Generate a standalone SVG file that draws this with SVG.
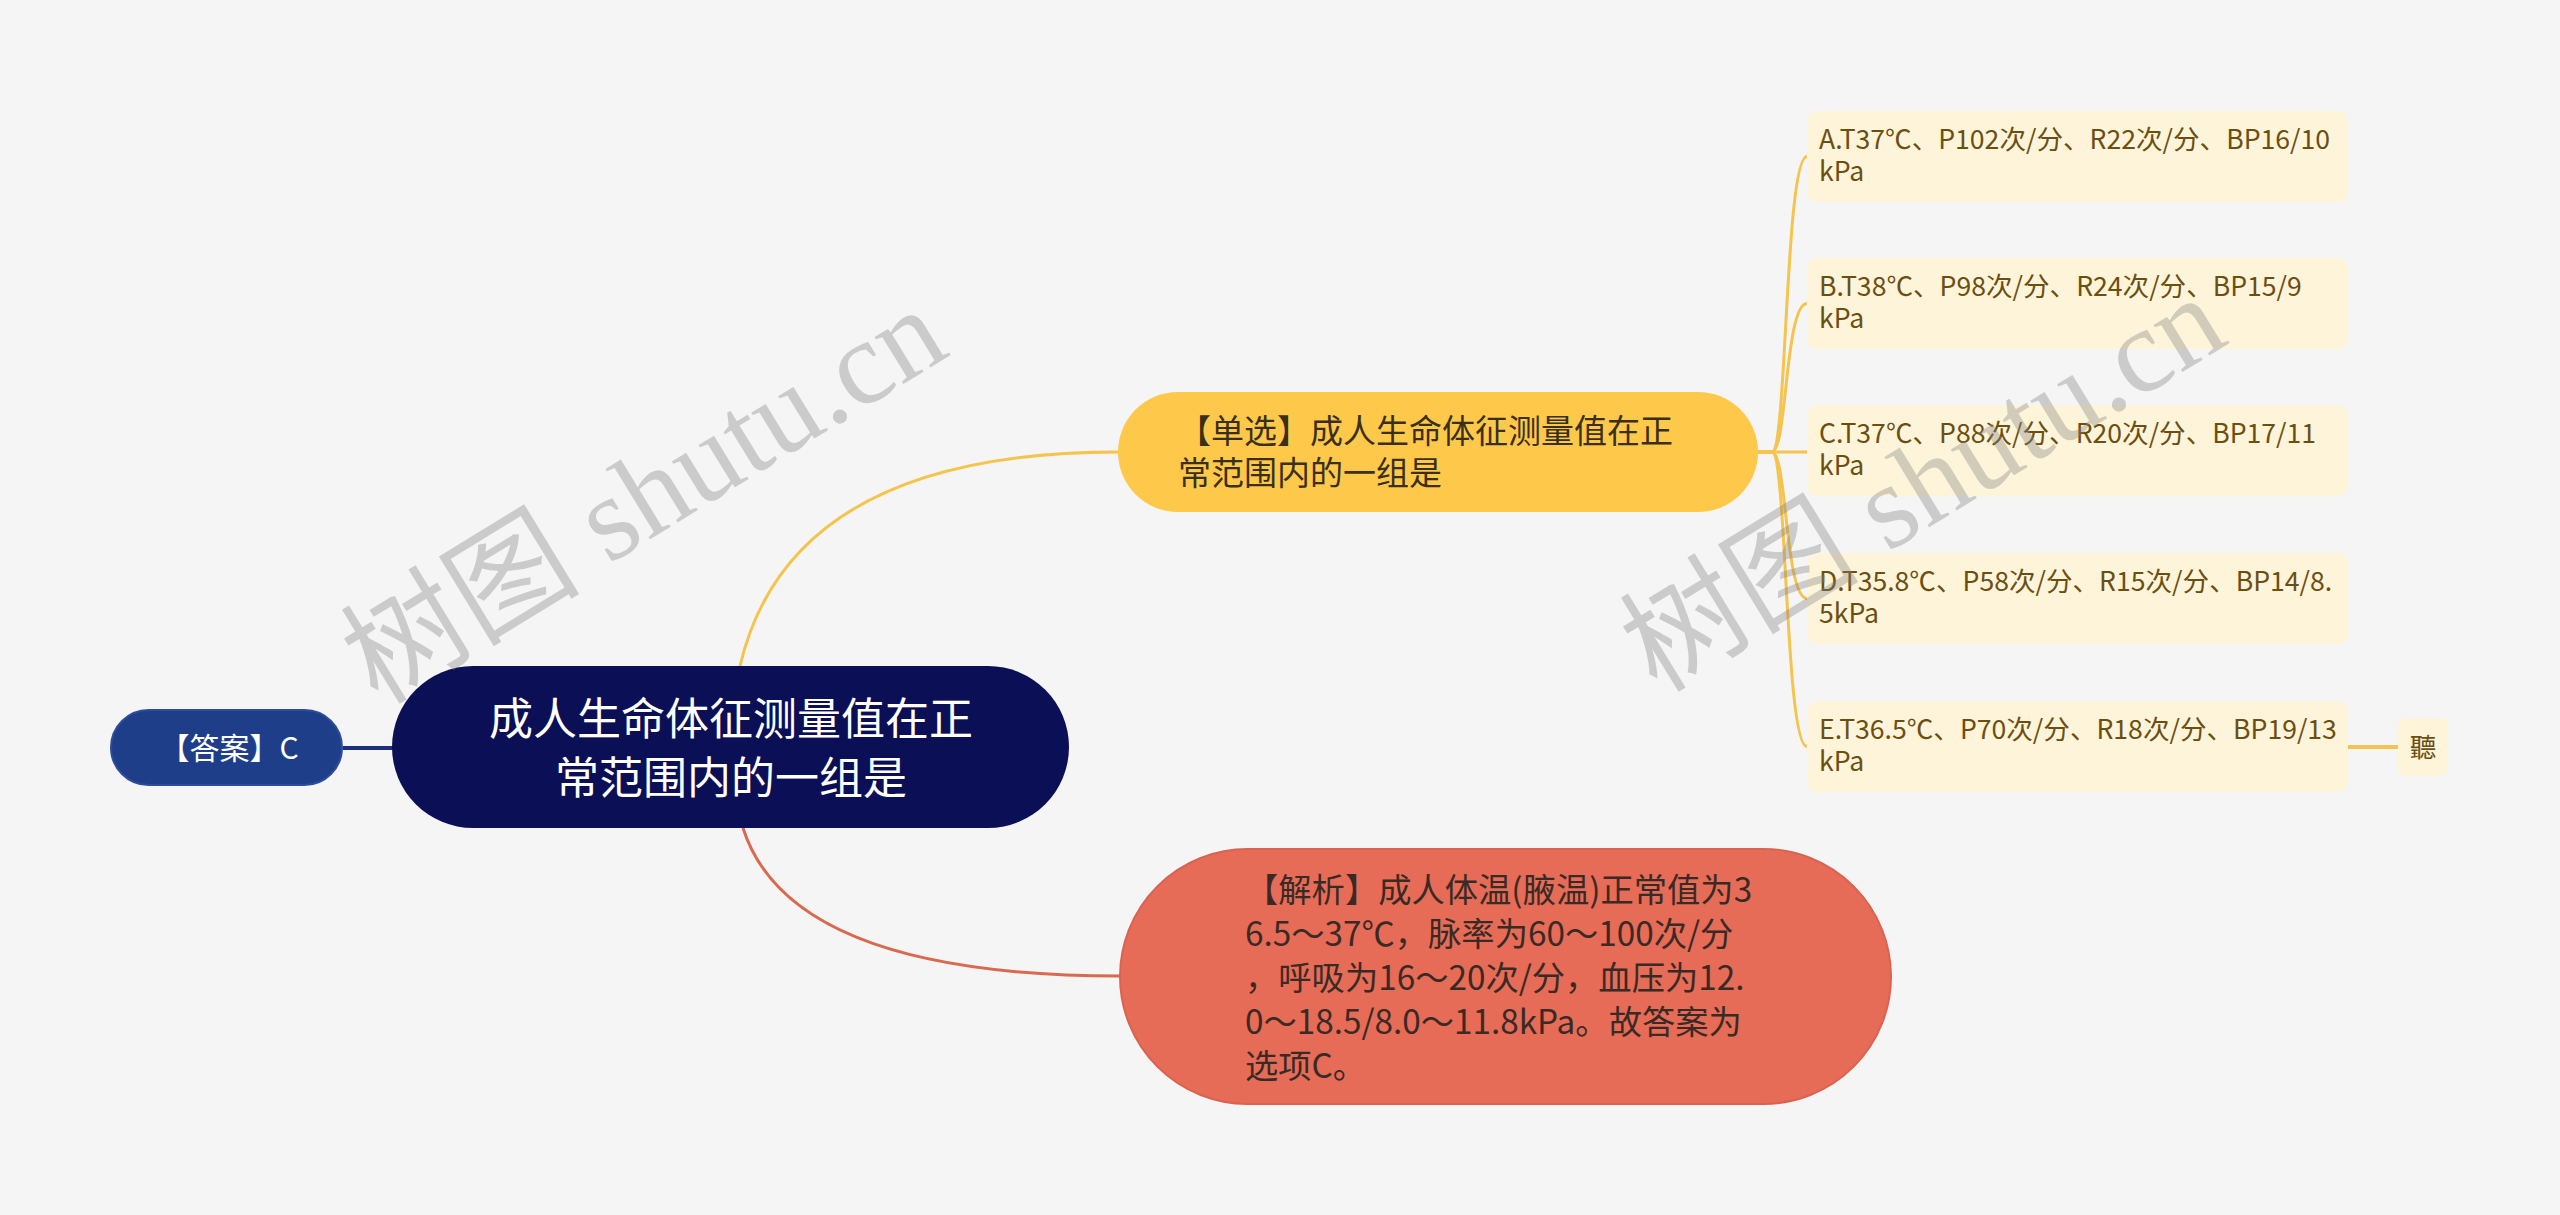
<svg xmlns="http://www.w3.org/2000/svg" width="2560" height="1215" viewBox="0 0 2560 1215">
<style>
text{font-family:"Noto Sans CJK SC","Liberation Sans",sans-serif}
.root{fill:#0b0f56}
.ans{fill:#1f3e8a;stroke:#2d4d9c;stroke-width:2}
.single{fill:#fec84b}
.ana{fill:#e66c57;stroke:#d96350;stroke-width:2}
.opt{fill:#fef4da}
.tw{fill:#ffffff}
.td{fill:#3a3018}
.tr{fill:#3a2a25}
.to{fill:#6b4f10;font-size:26.6px}
.cy{fill:none;stroke:#f4c44e;stroke-width:3}
.wm{font-family:"Liberation Serif","Noto Sans CJK SC",serif;font-size:120px;fill:#808080;opacity:0.35}
</style>
<rect x="0" y="0" width="2560" height="1215" fill="#f5f5f5"/>
<g id="connectors">
<line x1="343" y1="748" x2="393" y2="748" stroke="#1c2f7a" stroke-width="4"/>
<path d="M740 666 Q790 452 1118 452" class="cy"/>
<path d="M743 828 Q790 976 1120 976" fill="none" stroke="#d9694f" stroke-width="3"/>
<path d="M1758 452 H1772 C1787 452 1785 156.5 1807 156.5" class="cy"/>
<path d="M1758 452 H1772 C1787 452 1785 303.5 1807 303.5" class="cy"/>
<path d="M1758 452 H1807" class="cy"/>
<path d="M1758 452 H1772 C1787 452 1785 598.5 1807 598.5" class="cy"/>
<path d="M1758 452 H1772 C1787 452 1785 746.5 1807 746.5" class="cy"/>
<line x1="2348" y1="747" x2="2398" y2="747" stroke="#f4c44e" stroke-width="4"/>
</g>
<g id="root">
<rect x="392" y="666" width="677" height="162" rx="81" class="root"/>
<text x="731" y="735" font-size="44" text-anchor="middle" class="tw">成人生命体征测量值在正</text>
<text x="731" y="794" font-size="44" text-anchor="middle" class="tw">常范围内的一组是</text>
</g>
<g id="answer">
<rect x="111" y="710" width="231" height="75" rx="37.5" class="ans"/>
<text x="229" y="759" font-size="30" text-anchor="middle" class="tw">【答案】C</text>
</g>
<g id="single">
<rect x="1118" y="392" width="640" height="120" rx="60" class="single"/>
<text x="1178" y="443" font-size="33" class="td">【单选】成人生命体征测量值在正</text>
<text x="1178" y="485" font-size="33" class="td">常范围内的一组是</text>
</g>
<g id="analysis">
<rect x="1120" y="849" width="771" height="255" rx="127.5" class="ana"/>
<text font-size="33.3" class="tr">
<tspan x="1245" y="902">【解析】成人体温(腋温)正常值为3</tspan>
<tspan x="1245" y="946">6.5～37℃，脉率为60～100次/分</tspan>
<tspan x="1245" y="990">，呼吸为16～20次/分，血压为12.</tspan>
<tspan x="1245" y="1034">0～18.5/8.0～11.8kPa。故答案为</tspan>
<tspan x="1245" y="1078">选项C。</tspan>
</text>
</g>
<g id="optA">
<rect x="1807" y="111" width="541" height="91" rx="10" class="opt"/>
<text class="to"><tspan x="1819" y="149">A.T37℃、P102次/分、R22次/分、BP16/10</tspan><tspan x="1819" y="181">kPa</tspan></text>
</g>
<g id="optB">
<rect x="1807" y="258" width="541" height="91" rx="10" class="opt"/>
<text class="to"><tspan x="1819" y="296">B.T38℃、P98次/分、R24次/分、BP15/9</tspan><tspan x="1819" y="328">kPa</tspan></text>
</g>
<g id="optC">
<rect x="1807" y="405" width="541" height="91" rx="10" class="opt"/>
<text class="to"><tspan x="1819" y="443">C.T37℃、P88次/分、R20次/分、BP17/11</tspan><tspan x="1819" y="475">kPa</tspan></text>
</g>
<g id="optD">
<rect x="1807" y="553" width="541" height="91" rx="10" class="opt"/>
<text class="to"><tspan x="1819" y="591">D.T35.8℃、P58次/分、R15次/分、BP14/8.</tspan><tspan x="1819" y="623">5kPa</tspan></text>
</g>
<g id="optE">
<rect x="1807" y="701" width="541" height="91" rx="10" class="opt"/>
<text class="to"><tspan x="1819" y="739">E.T36.5℃、P70次/分、R18次/分、BP19/13</tspan><tspan x="1819" y="771">kPa</tspan></text>
</g>
<g id="ting">
<rect x="2398" y="718" width="50" height="58" rx="8" class="opt"/>
<text x="2423" y="757" text-anchor="middle" class="to">聽</text>
</g>
<g id="watermarks">
<text x="378" y="706" transform="rotate(-31.5 378 706)" class="wm">树图 shutu.cn</text>
<text x="1657" y="694" transform="rotate(-31.5 1657 694)" class="wm">树图 shutu.cn</text>
</g>
</svg>
